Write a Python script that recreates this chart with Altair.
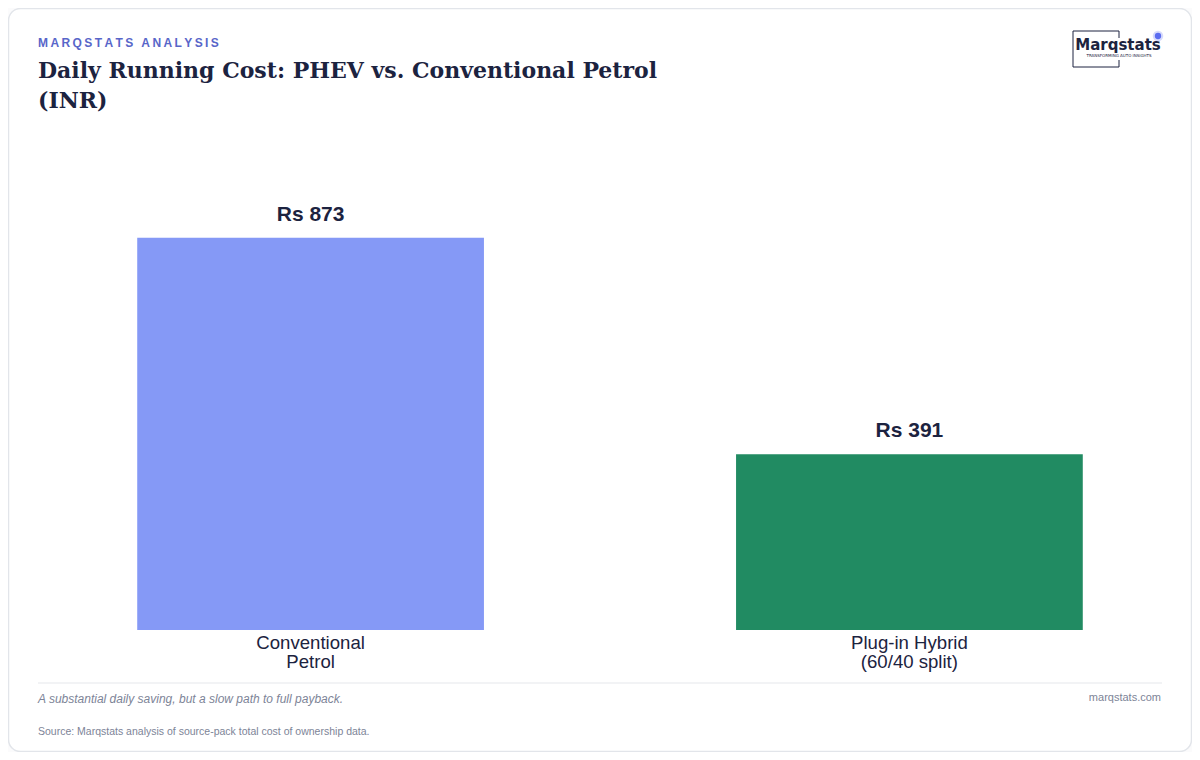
import altair as alt
import pandas as pd

# chart data
categories = ["Conventional\nPetrol", "Plug-in Hybrid\n(60/40 split)"]
costs = [873, 391]
bar_colors = ["#8599f6", "#218b62"]

kicker = "MARQSTATS ANALYSIS"
title_lines = ["Daily Running Cost: PHEV vs. Conventional Petrol", "(INR)"]
note = "A substantial daily saving, but a slow path to full payback."
site = "marqstats.com"
source = "Source: Marqstats analysis of source-pack total cost of ownership data."

df = pd.DataFrame({"category": categories, "cost": costs})
one = alt.Data(values=[{}])

W, H = 1124, 500
SANS = "Liberation Sans"
INK = "#1c2340"
GREY = "#7d8497"

# card frame
frame = alt.Chart(one).mark_rect(
    fill="white", stroke="#e2e5ea", strokeWidth=1.5, cornerRadius=12
).encode(x=alt.value(-39.5), x2=alt.value(1143.5), y=alt.value(-121.5), y2=alt.value(621.5))

bars = alt.Chart(df).mark_bar().encode(
    x=alt.X("category:N", sort=categories, title=None,
            scale=alt.Scale(paddingInner=0.421, paddingOuter=0.149),
            axis=alt.Axis(labelAngle=0, domain=False, ticks=False, labelPadding=3,
                          labelFont=SANS, labelFontSize=18.6, labelColor=INK,
                          labelLineHeight=19, labelBaseline="top", zindex=2,
                          labelExpr="split(datum.label, '\\n')")),
    y=alt.Y("cost:Q", scale=alt.Scale(domain=[0, 1113], nice=False), axis=None),
    color=alt.Color("category:N", scale=alt.Scale(domain=categories, range=bar_colors), legend=None),
)

values = alt.Chart(df).transform_calculate(
    label="'Rs ' + datum.cost"
).mark_text(font=SANS, fontSize=21, fontWeight="bold", color=INK, dy=-17, baseline="alphabetic").encode(
    x=alt.X("category:N", sort=categories),
    y="cost:Q",
    text="label:N",
)

def txt(s, x, y, **kw):
    return alt.Chart(one).mark_text(text=s, **kw).encode(x=alt.value(x), y=alt.value(y))

header = alt.layer(
    txt("\u2009".join(kicker), -10, -87, font=SANS, fontSize=12, fontWeight="bold",
        color="#5866c9", align="left", baseline="middle"),
    txt(title_lines[0], -10, -59, font="DejaVu Serif", fontSize=22, fontWeight="bold",
        color=INK, align="left", baseline="middle"),
    txt(title_lines[1], -10, -29, font="DejaVu Serif", fontSize=22, fontWeight="bold",
        color=INK, align="left", baseline="middle"),
)

# logo
logo_box = alt.layer(
    alt.Chart(one).mark_rule(color=INK, strokeWidth=1).encode(
        x=alt.value(1025), x2=alt.value(1071), y=alt.value(-99)),
    alt.Chart(one).mark_rule(color=INK, strokeWidth=1).encode(
        x=alt.value(1025), x2=alt.value(1071), y=alt.value(-63)),
    alt.Chart(one).mark_rule(color=INK, strokeWidth=1).encode(
        x=alt.value(1025), y=alt.value(-99), y2=alt.value(-63)),
    alt.Chart(one).mark_rule(color=INK, strokeWidth=1).encode(
        x=alt.value(1071), y=alt.value(-99), y2=alt.value(-92)),
    alt.Chart(one).mark_rule(color=INK, strokeWidth=1).encode(
        x=alt.value(1071), y=alt.value(-70), y2=alt.value(-63)),
    alt.Chart(one).mark_circle(color="#5b6cf0", opacity=0.25, size=110).encode(
        x=alt.value(1110), y=alt.value(-94)),
    alt.Chart(one).mark_circle(color="#5b6cf0", opacity=1, size=40).encode(
        x=alt.value(1110), y=alt.value(-94)),
    txt("Marqstats", 1070, -85, font="DejaVu Sans", fontSize=15, fontWeight=600,
        color=INK, align="center", baseline="middle"),
    txt("TRANSFORMING AUTO INSIGHTS", 1071, -74, font="DejaVu Sans", fontSize=4,
        color=INK, align="center", baseline="middle"),
)

footer = alt.layer(
    alt.Chart(one).mark_rule(color="#e5e7eb", strokeWidth=1).encode(
        x=alt.value(-10), x2=alt.value(1114), y=alt.value(553)),
    txt(note, -10, 569, font=SANS, fontSize=12, fontStyle="italic", color=GREY,
        align="left", baseline="middle"),
    txt(site, 1113, 568, font=SANS, fontSize=11, color=GREY, align="right", baseline="middle"),
    txt(source, -10, 602, font=SANS, fontSize=10.5, color=GREY, align="left", baseline="middle"),
)

chart = alt.layer(frame, bars, values, header, logo_box, footer).properties(
    width=W, height=H,
    autosize=alt.AutoSizeParams(type="none"),
    padding={"left": 40, "top": 122, "right": 20, "bottom": 122},
    background="#fbfbfc",
).configure_view(stroke=None)

chart.save("out.html", embed_options={"renderer": "svg", "actions": False})
